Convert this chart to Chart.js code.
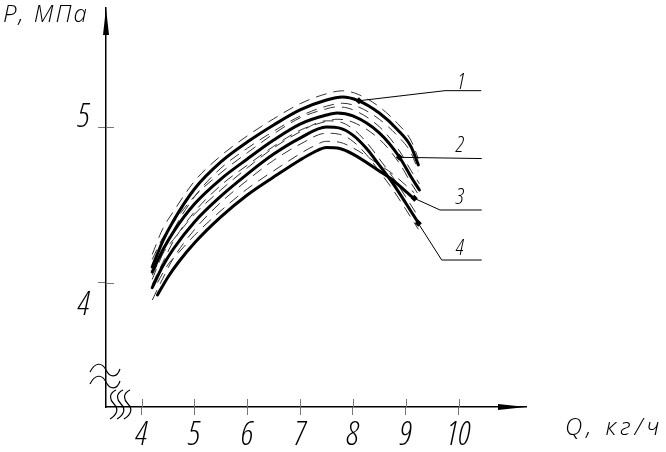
<!DOCTYPE html>
<html><head><meta charset="utf-8">
<script src="https://cdn.jsdelivr.net/npm/chart.js@4/dist/chart.umd.min.js"></script>
<style>html,body{margin:0;padding:0;background:#fff}canvas{display:block}</style>
</head><body>
<canvas id="c" width="666" height="452"></canvas>
<script>
// ---- data ----
const xTicks = [4, 5, 6, 7, 8, 9, 10];
const yTicks = [4, 5];
const xTitle = 'Q, кг/ч';
const yTitle = 'P, МПа';

const curve1X = [4.2, 4.4, 4.6, 5.0, 5.5, 6.0, 6.5, 7.0, 7.5, 7.8, 8.1, 8.5, 8.85, 9.1, 9.24];
const curve1Y = [4.101, 4.268, 4.397, 4.603, 4.777, 4.905, 5.015, 5.112, 5.176, 5.195, 5.172, 5.092, 4.983, 4.876, 4.758];
const curve1Up = [4.181, 4.348, 4.457, 4.653, 4.817, 4.945, 5.055, 5.152, 5.216, 5.235, 5.212, 5.132, 5.023, 4.916, 4.798];
const curve1Lo = [4.021, 4.188, 4.337, 4.553, 4.737, 4.865, 4.975, 5.072, 5.136, 5.155, 5.132, 5.052, 4.943, 4.836, 4.718];

const curve2X = [4.2, 4.4, 4.6, 5.0, 5.5, 6.0, 6.5, 7.0, 7.5, 7.7, 8.0, 8.5, 8.88, 9.1, 9.26];
const curve2Y = [4.069, 4.210, 4.326, 4.506, 4.667, 4.796, 4.918, 5.021, 5.079, 5.092, 5.073, 4.964, 4.809, 4.682, 4.597];
const curve2Up = [4.149, 4.290, 4.386, 4.556, 4.707, 4.836, 4.958, 5.061, 5.119, 5.132, 5.113, 5.004, 4.849, 4.722, 4.637];
const curve2Lo = [3.989, 4.130, 4.266, 4.456, 4.627, 4.756, 4.878, 4.981, 5.039, 5.052, 5.033, 4.924, 4.769, 4.642, 4.557];

const curve3X = [4.2, 4.4, 4.6, 5.0, 5.5, 6.0, 6.5, 7.0, 7.5, 7.75, 8.0, 8.25, 8.5, 8.75, 9.0, 9.24];
const curve3Y = [3.968, 4.107, 4.217, 4.391, 4.557, 4.699, 4.828, 4.931, 5.002, 4.995, 4.950, 4.867, 4.757, 4.642, 4.513, 4.384];
const curve3Up = [4.048, 4.187, 4.277, 4.441, 4.597, 4.739, 4.868, 4.971, 5.042, 5.035, 4.990, 4.907, 4.797, 4.682, 4.553, 4.424];
const curve3Lo = [3.888, 4.027, 4.157, 4.341, 4.517, 4.659, 4.788, 4.891, 4.962, 4.955, 4.910, 4.827, 4.717, 4.602, 4.473, 4.344];

const curve4X = [4.3, 4.5, 4.7, 5.0, 5.5, 6.0, 6.5, 7.0, 7.25, 7.5, 7.75, 8.0, 8.5, 8.75, 9.16];
const curve4Y = [3.921, 4.037, 4.133, 4.255, 4.423, 4.564, 4.680, 4.790, 4.838, 4.870, 4.864, 4.828, 4.719, 4.661, 4.539];
const curve4Up = [4.001, 4.117, 4.193, 4.305, 4.463, 4.604, 4.720, 4.830, 4.878, 4.910, 4.904, 4.868, 4.759, 4.701, 4.579];

const markerX = [8.115, 8.879, 9.163, 9.239];
const markerY = [5.171, 4.807, 4.543, 4.382];

const curveLabels = ['1', '2', '3', '4'];
const labelX = [10.05, 10.03, 10.03, 10.03];
const labelY = [5.29, 4.88, 4.55, 4.22];
const leader1X = [8.115, 9.744, 10.43];
const leader1Y = [5.171, 5.236, 5.236];
const leader2X = [8.879, 10.44];
const leader2Y = [4.807, 4.799];
const leader3X = [9.163, 9.65, 10.44];
const leader3Y = [4.543, 4.468, 4.468];
const leader4X = [9.239, 9.682, 10.44];
const leader4Y = [4.382, 4.146, 4.146];

// ---- helpers ----
const pts = (xs, ys) => xs.map((x, i) => ({x: x, y: ys[i]}));
const FONT = "'Open Sans','Liberation Sans','DejaVu Sans',sans-serif";

function solid(xs, ys) {
  return {data: pts(xs, ys), borderColor: '#000', borderWidth: 3, pointRadius: 0,
    cubicInterpolationMode: 'monotone', borderCapStyle: 'round', borderJoinStyle: 'round', fill: false};
}
function dashed(xs, ys) {
  return {data: pts(xs, ys), borderColor: '#333', borderWidth: 1, pointRadius: 0,
    borderDash: [11, 7], cubicInterpolationMode: 'monotone', fill: false};
}
function leader(xs, ys) {
  return {data: pts(xs, ys), borderColor: '#000', borderWidth: 1, pointRadius: 0, tension: 0, fill: false};
}

const decor = {
  id: 'decor',
  afterDraw(chart) {
    const ctx = chart.ctx;
    const a = chart.chartArea;
    const xs = chart.scales.x, ys = chart.scales.y;
    ctx.save();
    // inner halves of the crossing tick marks
    ctx.strokeStyle = '#777';
    ctx.lineWidth = 1;
    xs.ticks.forEach(t => {
      const p = Math.round(xs.getPixelForValue(t.value)) + 0.5;
      ctx.beginPath(); ctx.moveTo(p, a.bottom); ctx.lineTo(p, a.bottom - 8); ctx.stroke();
    });
    ys.ticks.forEach(t => {
      const p = Math.round(ys.getPixelForValue(t.value)) + 0.5;
      ctx.beginPath(); ctx.moveTo(a.left, p); ctx.lineTo(a.left + 8, p); ctx.stroke();
    });
    // arrow heads
    ctx.fillStyle = '#000';
    ctx.beginPath();
    ctx.moveTo(a.left, a.top); ctx.lineTo(a.left - 3, a.top + 27); ctx.lineTo(a.left + 3, a.top + 27); ctx.closePath(); ctx.fill();
    ctx.beginPath();
    ctx.moveTo(a.right, a.bottom); ctx.lineTo(a.right - 28, a.bottom - 3); ctx.lineTo(a.right - 28, a.bottom + 3); ctx.closePath(); ctx.fill();
    // axis break marks
    ctx.strokeStyle = '#000';
    ctx.lineWidth = 1.2;
    [0, 12].forEach(dy => {
      const y0 = a.bottom - 35 + dy;
      ctx.beginPath();
      ctx.moveTo(a.left - 16, y0);
      ctx.bezierCurveTo(a.left - 11, y0 - 10, a.left - 4, y0 - 10, a.left, y0 - 2);
      ctx.bezierCurveTo(a.left + 4, y0 + 6, a.left + 11, y0 + 6, a.left + 14, y0 - 3);
      ctx.stroke();
    });
    [7, 14, 21].forEach(dx => {
      const x0 = a.left + dx;
      ctx.beginPath();
      ctx.moveTo(x0 + 3, a.bottom - 17);
      ctx.bezierCurveTo(x0 - 5, a.bottom - 13, x0 - 3, a.bottom - 7, x0 + 1, a.bottom - 3);
      ctx.bezierCurveTo(x0 + 6, a.bottom + 2, x0 + 4, a.bottom + 8, x0 - 3, a.bottom + 12);
      ctx.stroke();
    });
    // axis titles
    ctx.fillStyle = '#000';
    ctx.textBaseline = 'alphabetic';
    ctx.textAlign = 'left';
    ctx.font = 'italic 300 24px ' + FONT;
    ctx.letterSpacing = '2px';
    ctx.fillText(yTitle, 3, 22);
    ctx.letterSpacing = '4px';
    ctx.fillText(xTitle, 565, 435);
    ctx.letterSpacing = '0px';
    // curve numbers
    ctx.font = 'italic 300 condensed 22px ' + FONT;
    ctx.textAlign = 'center';
    ctx.textBaseline = 'middle';
    curveLabels.forEach((s, i) => {
      ctx.fillText(s, xs.getPixelForValue(labelX[i]), ys.getPixelForValue(labelY[i]));
    });
    ctx.restore();
  }
};

new Chart(document.getElementById('c'), {
  type: 'line',
  data: {
    datasets: [
      {data: pts(markerX, markerY), showLine: false, pointStyle: 'rectRot', pointRadius: 3.5,
        pointBackgroundColor: '#000', pointBorderColor: '#000', borderWidth: 0},
      solid(curve1X, curve1Y), solid(curve2X, curve2Y), solid(curve3X, curve3Y), solid(curve4X, curve4Y),
      leader(leader1X, leader1Y), leader(leader2X, leader2Y), leader(leader3X, leader3Y), leader(leader4X, leader4Y),
      dashed(curve1X, curve1Up), dashed(curve1X, curve1Lo),
      dashed(curve2X, curve2Up), dashed(curve2X, curve2Lo),
      dashed(curve3X, curve3Up), dashed(curve3X, curve3Lo),
      dashed(curve4X, curve4Up)
    ]
  },
  options: {
    responsive: false,
    animation: false,
    devicePixelRatio: 1,
    layout: {padding: {top: 8, right: 140, left: 0, bottom: 0}},
    plugins: {legend: {display: false}, tooltip: {enabled: false}, title: {display: false}},
    scales: {
      x: {
        type: 'linear', min: 3.325, max: 11.278,
        afterBuildTicks: s => { s.ticks = xTicks.map(v => ({value: v})); },
        afterFit: s => { s.height = 45; s.paddingLeft = 0; s.paddingRight = 0; },
        border: {display: true, color: '#000', width: 1.5},
        grid: {display: true, drawOnChartArea: false, drawTicks: true, tickLength: 8, color: '#777', lineWidth: 1},
        ticks: {color: '#000', padding: 4, maxRotation: 0, autoSkip: false,
          font: {family: FONT, size: 33, style: 'italic', weight: '300 condensed', lineHeight: 1.0},
          callback: (v) => String(v)}
      },
      y: {
        type: 'linear', min: 3.2, max: 5.768,
        afterBuildTicks: s => { s.ticks = yTicks.map(v => ({value: v})); },
        afterFit: s => { s.width = 106; s.paddingTop = 0; s.paddingBottom = 0; },
        border: {display: true, color: '#000', width: 1.5},
        grid: {display: true, drawOnChartArea: false, drawTicks: true, tickLength: 8, color: '#777', lineWidth: 1},
        ticks: {color: '#000', padding: 8, autoSkip: false,
          font: (c) => ({family: FONT, size: 33, style: 'italic', weight: '300 condensed', lineHeight: c.index === 0 ? 1.375 : 0.5625}),
          callback: (v, i) => i === 0 ? ['', String(v)] : [String(v), '']}
      }
    }
  },
  plugins: [decor]
});
</script>
</body></html>
